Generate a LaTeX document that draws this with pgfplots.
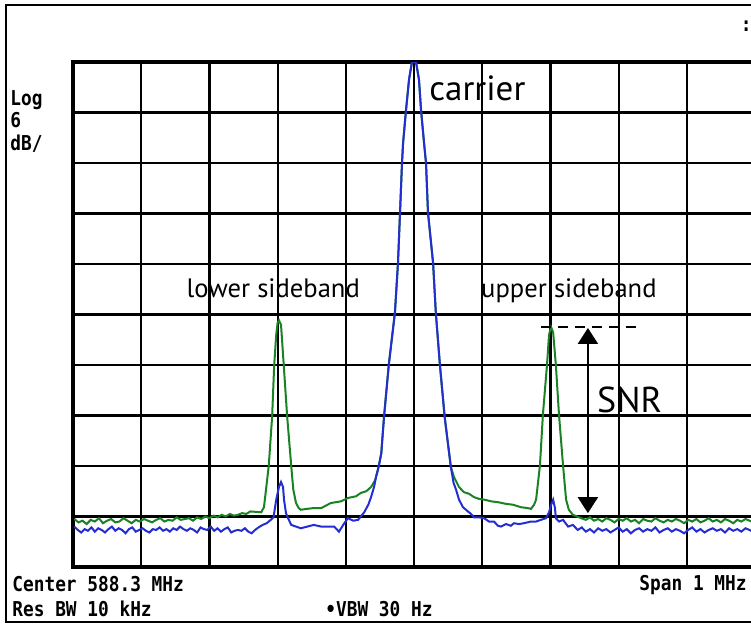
\documentclass[border=0pt]{standalone}
\usepackage{fontspec}
\setmainfont{PT Sans}
\newfontfamily\instr{DejaVu Sans Mono}
\usepackage{graphicx}
\usepackage{pgfplots}
\pgfplotsset{compat=1.18}
\usetikzlibrary{arrows.meta}
\definecolor{trgreen}{RGB}{25,130,35}
\definecolor{trblue}{RGB}{35,45,210}
\newcommand{\scr}[1]{\scalebox{1}[1.15]{\instr\bfseries\fontsize{8.9}{10}\selectfont #1}}

\begin{document}
\begin{tikzpicture}
\useasboundingbox (0,0) rectangle (375.5pt,313pt);
\clip (0,0) rectangle (375.5pt,313pt);
\draw[line width=1.4pt] (3pt,2pt) rectangle (395pt,310.5pt);
\begin{axis}[
    at={(36.5pt,29.5pt)}, anchor=south west,
    scale only axis, width=341pt, height=252.5pt,
    xmin=-500, xmax=500, ymin=-60, ymax=0,
    xtick={-500,-400,...,500}, ytick={-60,-54,...,0},
    xticklabels={}, yticklabels={},
    major tick length=0pt,
    grid=major, grid style={black, line width=1.1pt},
    axis line style={line width=1.6pt},
    every axis plot/.append style={line width=1pt, mark=none},
]
% modulated trace (green)
\addplot[trgreen] coordinates {
(-498,-54.3)(-492,-54.7)(-486,-54.5)(-480,-54.9)(-474,-54.4)(-468,-54.6)(-462,-54.2)
(-456,-54.8)(-450,-54.5)(-444,-54.3)(-438,-54.7)(-432,-54.6)(-426,-54.2)(-420,-54.5)
(-414,-54.8)(-408,-54.4)(-402,-54.6)(-396,-54.3)(-390,-54.5)(-384,-54.7)(-378,-54.4)
(-372,-54.2)(-366,-54.6)(-360,-54.4)(-354,-54.5)(-348,-54.1)(-342,-54.4)(-336,-54.3)
(-330,-54.2)(-324,-54.5)(-318,-54.1)(-312,-54.3)(-306,-54.0)(-300,-54.2)(-294,-53.9)
(-288,-54.1)(-282,-53.8)(-276,-54.0)(-270,-53.7)(-264,-53.9)(-258,-53.8)(-252,-53.6)
(-246,-53.7)(-240,-53.4)(-224,-53.5)(-220,-52.9)(-217,-50.8)(-213,-48.0)(-208,-42.1)
(-205,-36.0)(-202,-32.4)(-200,-31.0)(-198,-30.7)(-195,-31.2)(-191,-36.0)(-186,-42.1)
(-180,-48.0)(-177,-50.8)(-173,-52.4)(-169,-53.0)(-166,-53.2)(-158,-53.1)(-147,-53.0)
(-136,-53.0)(-122,-52.4)(-107,-52.2)(-97,-51.8)(-85,-51.6)(-78,-51.2)(-70,-51.0)
(-63,-50.5)(-57,-49.7)(-53,-48.5)(-48,-46.5)(-44,-42.2)(-37,-36.0)(-28,-29.8)
(-23.5,-23.9)(-20.5,-17.9)(-17.6,-12.0)(-16,-9.6)(-11.7,-5.7)(-7.3,-2.1)(-3,0)
(0,0)(3,0)(7.3,-2.1)(10.3,-5.7)(14.7,-9.6)(17.6,-12.0)(20.5,-17.9)(28,-23.9)
(32,-29.8)(38,-36.0)(45,-42.2)(54,-48.1)(58.6,-49.3)(66,-50.5)(73,-51.1)(80.6,-51.3)
(88,-51.7)(95,-51.9)(103,-52.0)(113,-52.2)(123,-52.3)(135,-52.5)(145,-52.6)
(157,-52.9)(167,-53.0)(171.5,-53.1)(176,-52.6)(179,-52.0)(184.7,-47.9)(189,-41.9)
(195,-36.0)(198,-32.4)(201,-31.5)(204,-32.1)(208,-36.0)(212.6,-41.9)(218.5,-47.9)
(223,-52.0)(227,-53.2)(233,-53.8)(245,-54.2)(252,-54.4)(258,-54.1)(264,-54.5)
(270,-54.3)(276,-54.6)(282,-54.2)(288,-54.4)(294,-54.7)(300,-54.3)(306,-54.5)
(312,-54.2)(318,-54.6)(324,-54.4)(330,-54.8)(336,-54.3)(342,-54.5)(348,-54.6)
(354,-54.2)(360,-54.5)(366,-54.7)(372,-54.4)(378,-54.6)(384,-54.3)(390,-54.5)
(396,-54.8)(402,-54.4)(408,-54.6)(414,-54.3)(420,-54.7)(426,-54.5)(432,-54.2)
(438,-54.6)(444,-54.4)(450,-54.7)(456,-54.3)(462,-54.5)(468,-54.8)(474,-54.4)
(480,-54.6)(486,-54.3)(492,-54.5)(498,-54.7)(502,-54.4)
};
% unmodulated trace (blue)
\addplot[trblue] coordinates {
(-498,-55.2)(-493,-55.6)(-488,-55.9)(-483,-55.5)(-478,-55.7)(-473,-55.3)(-468,-55.8)
(-463,-55.4)(-458,-55.6)(-453,-55.9)(-448,-55.5)(-443,-55.2)(-438,-55.7)(-433,-55.4)
(-428,-55.6)(-423,-56.0)(-418,-55.5)(-413,-55.3)(-408,-55.8)(-403,-55.6)(-398,-55.4)
(-393,-55.7)(-388,-55.9)(-383,-55.5)(-378,-55.6)(-373,-55.3)(-368,-55.7)(-363,-55.5)
(-358,-55.8)(-353,-55.4)(-348,-55.6)(-343,-55.2)(-338,-55.5)(-333,-55.7)(-328,-55.4)
(-323,-55.6)(-318,-55.9)(-313,-55.3)(-308,-55.5)(-303,-55.6)(-298,-55.2)(-293,-55.7)
(-288,-55.4)(-283,-55.8)(-278,-55.5)(-273,-55.3)(-268,-55.9)(-263,-55.7)(-258,-55.6)
(-253,-55.7)(-248,-55.4)(-243,-55.8)(-238,-56.0)(-233,-55.6)(-228,-55.3)(-222,-55.0)
(-216,-54.8)(-210,-54.4)(-206,-54.1)(-202,-52.0)(-198,-50.5)(-195,-49.9)(-192,-50.5)
(-190.6,-52.0)(-187.7,-53.6)(-184.7,-54.2)(-180,-55.0)(-166,-55.4)(-147,-55.0)
(-136,-55.2)(-117,-55.2)(-110,-55.8)(-103,-54.9)(-97,-54.2)(-89,-54.5)(-82,-54.4)
(-73,-53.5)(-67,-52.6)(-63,-51.7)(-58.6,-50.5)(-55.7,-49.3)(-51.3,-47.9)(-48,-46.5)
(-44,-42.2)(-37,-36.0)(-28,-29.8)(-23.5,-23.9)(-20.5,-17.9)(-17.6,-12.0)(-16,-9.6)
(-11.7,-5.7)(-7.3,-2.1)(-3,0)(0,0)(3,0)(7.3,-2.1)(10.3,-5.7)(14.7,-9.6)(17.6,-12.0)
(20.5,-17.9)(28,-23.9)(32,-29.8)(38,-36.0)(45,-42.2)(54,-48.1)(58,-50.0)(61.6,-50.8)
(66,-52.0)(71.8,-52.9)(76.2,-53.2)(83.6,-53.7)(88,-54.1)(95.3,-54.1)(102.6,-54.2)
(110,-54.6)(117.3,-54.6)(123,-55.1)(127.6,-55.2)(135,-54.9)(142,-55.1)(146.6,-54.8)
(154,-54.9)(161,-54.8)(171.5,-54.6)(179,-54.6)(186,-54.4)(193.5,-54.2)(198,-53.5)
(201,-52.6)(204,-52.0)(206.7,-53.0)(208,-54.2)(212.6,-54.6)(218.5,-54.4)(226,-55.2)
(233,-55.0)(240,-55.6)(246,-55.3)(252,-55.8)(258,-55.5)(264,-55.9)(270,-55.4)
(276,-55.7)(282,-55.5)(288,-55.9)(294,-55.6)(300,-55.3)(306,-55.8)(312,-55.5)
(318,-56.0)(324,-55.6)(330,-55.4)(336,-55.8)(342,-55.5)(348,-55.7)(354,-55.3)
(360,-55.9)(366,-55.6)(372,-55.4)(378,-55.8)(384,-55.5)(390,-55.7)(396,-56.0)
(402,-55.6)(408,-55.3)(414,-55.8)(420,-55.5)(426,-55.9)(432,-55.6)(438,-55.4)
(444,-55.7)(450,-55.5)(456,-55.9)(462,-55.4)(468,-55.7)(474,-55.5)(480,-55.8)
(486,-55.4)(492,-55.6)(498,-55.9)(502,-55.5)
};
% annotations
\draw[line width=1pt, dash pattern=on 5pt off 3.5pt] (axis cs:186,-31.5) -- (axis cs:332,-31.5);
\draw[line width=1.1pt, {Triangle[length=8pt,width=10pt]}-{Triangle[length=8pt,width=10pt]}]
    (axis cs:255,-31.6) -- (axis cs:255,-53.6);
\node[anchor=base west, inner sep=0, font=\fontsize{17.5}{20}\selectfont] at (axis cs:22,-4.6) {carrier};
\node[anchor=base west, inner sep=0, font=\fontsize{13.3}{16}\selectfont] at (axis cs:-334,-28.0) {lower sideband};
\node[anchor=base west, inner sep=0, font=\fontsize{13.3}{16}\selectfont] at (axis cs:98,-28.0) {upper sideband};
\node[anchor=base west, inner sep=0, font=\fontsize{18}{20}\selectfont] at (axis cs:268,-41.7) {SNR};
\end{axis}
% instrument annotations
\node[anchor=base west, inner sep=0] at (5pt,260pt) {\scr{Log}};
\node[anchor=base west, inner sep=0] at (5pt,249pt) {\scr{6}};
\node[anchor=base west, inner sep=0] at (5pt,237.5pt) {\scr{dB/}};
\node[anchor=base west, inner sep=0] at (6pt,17.2pt) {\scr{Center 588.3 MHz}};
\node[anchor=base west, inner sep=0] at (6pt,4.7pt) {\scr{Res BW 10 kHz}};
\node[anchor=base west, inner sep=0] at (162.5pt,4.7pt) {\scr{•VBW 30 Hz}};
\node[anchor=base east, inner sep=0] at (373.5pt,17.5pt) {\scr{Span 1 MHz}};
\node[anchor=base east, inner sep=0] at (376pt,297pt) {\scr{:}};
\end{tikzpicture}
\end{document}
